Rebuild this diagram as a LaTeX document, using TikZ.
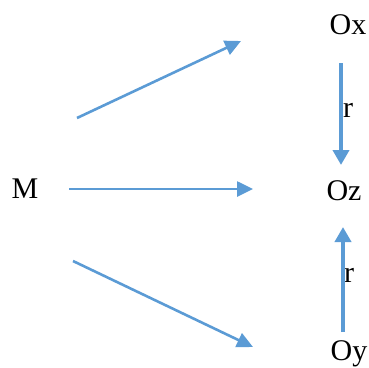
\documentclass[tikz,border=0pt]{standalone}
\usepackage{fontspec}
\setmainfont{Liberation Serif}
\usetikzlibrary{arrows.meta}
\definecolor{arrblue}{RGB}{91,155,213}
\begin{document}
\begin{tikzpicture}[x=1pt,y=-1pt,
  lbl/.style={anchor=base,inner sep=0pt,font=\fontsize{30}{36}\selectfont},
  thin/.style={draw=arrblue,line width=2.6pt,-{Triangle[length=16pt,width=15pt]}},
  thick/.style={draw=arrblue,line width=4.6pt,-{Triangle[length=15pt,width=16pt]}}]
\useasboundingbox (0,0) rectangle (369,367);
\node[lbl] (M) at (25,198) {M};
\node[lbl] (Ox) at (348,34.5) {Ox};
\node[lbl] (Oz) at (344,200) {Oz};
\node[lbl] (Oy) at (349,360) {Oy};
\node[lbl] (r1) at (348,117) {r};
\node[lbl] (r2) at (349,282) {r};
\coordinate (a1s) at (77,118);
\coordinate (a1e) at (241,41);
\coordinate (a2s) at (69,189);
\coordinate (a2e) at (253,189);
\coordinate (a3s) at (73,261);
\coordinate (a3e) at (253,347);
\coordinate (v1s) at (341,63);
\coordinate (v1e) at (341,165);
\coordinate (v2s) at (343,332);
\coordinate (v2e) at (343,227);
\draw[thin] (a1s) -- (a1e);
\draw[thin] (a2s) -- (a2e);
\draw[thin] (a3s) -- (a3e);
\draw[thick] (v1s) -- (v1e);
\draw[thick] (v2s) -- (v2e);
\end{tikzpicture}
\end{document}
